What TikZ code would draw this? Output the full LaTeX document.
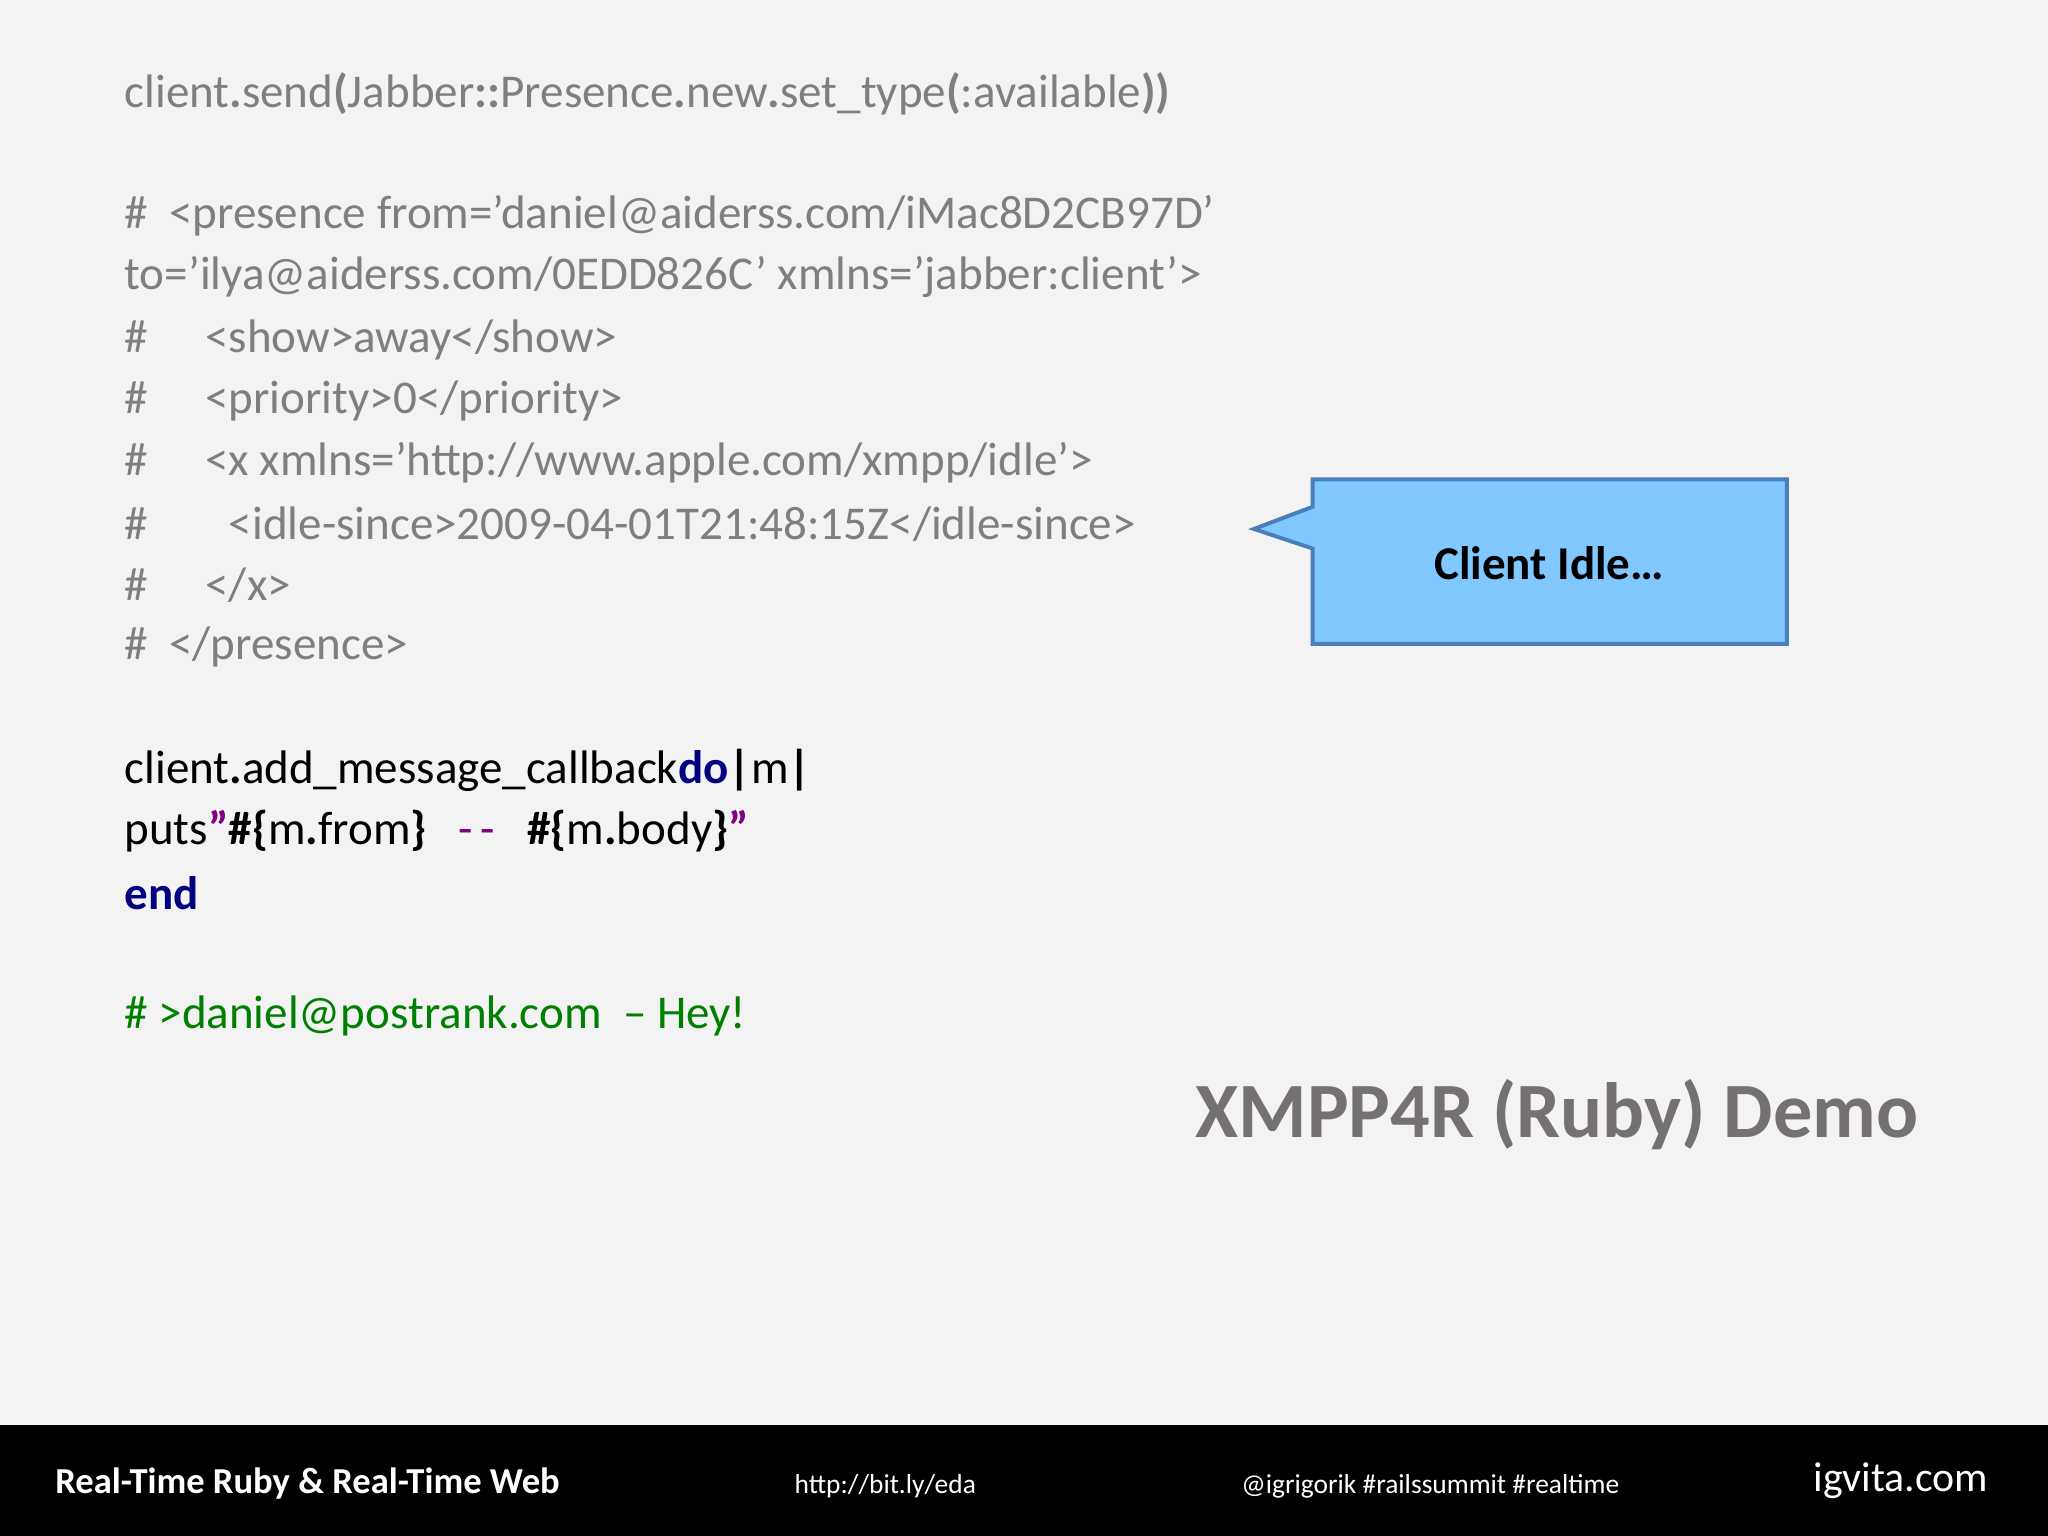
\documentclass[tikz,border=0pt]{standalone}
\usepackage{fontspec}
\setmainfont{Carlito}
\definecolor{bg}{HTML}{F3F3F4}
\definecolor{codegray}{HTML}{7F7F7F}
\definecolor{navy}{HTML}{000080}
\definecolor{purp}{HTML}{800080}
\definecolor{grn}{HTML}{008000}
\definecolor{callfill}{HTML}{80C8FF}
\definecolor{callline}{HTML}{4A7EBB}
\definecolor{titlegray}{HTML}{767171}
\begin{document}
\begin{tikzpicture}[x=0.5pt,y=-0.5pt,
  code/.style={anchor=west,inner sep=0pt,font=\fontsize{18}{20}\selectfont},
  foot/.style={anchor=west,inner sep=0pt,text=white}]
\fill[bg] (0,0) rectangle (1568,1176);
\fill[black] (0,1091) rectangle (1568,1176);
\node[code,text=codegray] (l1) at (95,72) {client{\bfseries .}send{\bfseries (}Jabber{\bfseries ::}Presence{\bfseries .}new{\bfseries .}set\_type{\bfseries (}:available{\bfseries ))}};
\node[code,text=codegray] (l2) at (95,165) {\#\ \ <presence from='daniel@aiderss.com/iMac8D2CB97D'};
\node[code,text=codegray] (l3) at (95,212) {to='ilya@aiderss.com/0EDD826C' xmlns='jabber:client'>};
\node[code,text=codegray] (l4) at (95,260) {\#\hspace{22pt}<show>away</show>};
\node[code,text=codegray] (l5) at (95,307) {\#\hspace{22pt}<priority>0</priority>};
\node[code,text=codegray] (l6) at (95,354) {\#\hspace{22pt}<x xmlns='http://www.apple.com/xmpp/idle'>};
\node[code,text=codegray] (l7) at (95,401) {\#\hspace{31pt}<idle-since>2009-04-01T21:48:15Z</idle-since>};
\node[code,text=codegray] (l8) at (95,448) {\#\hspace{22pt}</x>};
\node[code,text=codegray] (l9) at (95,495) {\#\ \ </presence>};
\node[code] (m1) at (95,590) {client{\bfseries .}add\_message\_callback{\bfseries\color{navy}do}{\bfseries |}m{\bfseries |}};
\node[code] (m2) at (95,636) {puts{\color{purp}\bfseries "}{\bfseries \#\{}m{\bfseries .}from{\bfseries \}}\ \ \ {\color{purp}-\,-}\ \ \ {\bfseries \#\{}m{\bfseries .}body{\bfseries \}}{\color{purp}\bfseries "}};
\node[code,text=navy,font=\fontsize{18}{20}\selectfont\bfseries] (m3) at (95,684) {end};
\node[code,text=grn] (g1) at (95,778) {\# >daniel@postrank.com\ \ -- Hey!};
\node[anchor=center,inner sep=0pt,text=titlegray,font=\fontsize{30}{32}\selectfont\bfseries] (title) at (1192,853) {XMPP4R (Ruby) Demo};
\draw[callline,fill=callfill,line width=1.5pt,line join=miter]
  (1005,367) -- (1368,367) -- (1368,493) -- (1005,493) -- (1005,420) -- (960,405) -- (1005,388) -- cycle;
\node[inner sep=0pt,font=\fontsize{18}{20}\selectfont\bfseries] (callout) at (1186,431) {Client Idle…};
\node[foot,font=\fontsize{14}{16}\selectfont\bfseries] (f1) at (42,1136) {Real-Time Ruby \& Real-Time Web};
\node[foot,font=\fontsize{10.5}{12}\selectfont] (f2) at (608,1138) {http://bit.ly/eda};
\node[foot,font=\fontsize{10.5}{12}\selectfont] (f3) at (950,1138) {@igrigorik \#railssummit \#realtime};
\node[foot,font=\fontsize{16}{18}\selectfont] (f4) at (1388,1134) {igvita.com};
\end{tikzpicture}
\end{document}
